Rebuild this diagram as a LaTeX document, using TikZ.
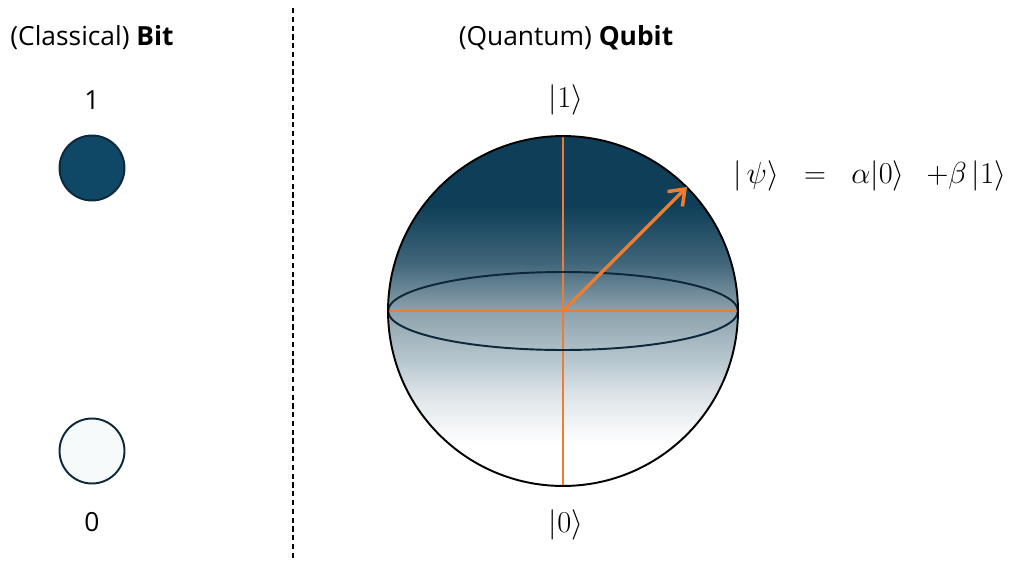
\documentclass[tikz,border=0pt]{standalone}
\usepackage{fontspec}
\setsansfont{Open Sans}
\usetikzlibrary{arrows.meta,positioning}
\definecolor{qdark}{RGB}{15,63,88}
\definecolor{qupper}{RGB}{63,101,121}
\definecolor{qmid}{RGB}{141,162,173}
\definecolor{qlower}{RGB}{182,198,206}
\definecolor{qpale}{RGB}{221,228,232}
\definecolor{bitblue}{RGB}{15,72,103}
\definecolor{bitpale}{RGB}{247,250,251}
\definecolor{qorange}{RGB}{237,125,49}
\definecolor{qline}{RGB}{12,40,58}
\pgfdeclareverticalshading{qsphere}{100bp}{color(0bp)=(white); color(31bp)=(white);
  color(38bp)=(qpale); color(43bp)=(qlower); color(50bp)=(qmid); color(57bp)=(qupper);
  color(65bp)=(qdark); color(100bp)=(qdark)}
\tikzset{
  titletext/.style={font=\sffamily\fontsize{15}{17}\selectfont},
  bitlabel/.style={font=\sffamily\fontsize{15}{17}\selectfont},
  ketlabel/.style={font=\fontsize{18}{20}\selectfont},
  bitcircle/.style={draw=qline, circle, line width=1.1pt, fill=#1,
                    minimum size=1.3cm, inner sep=0pt},
  axisline/.style={draw=qorange, line width=0.6pt},
  statevec/.style={-{Straight Barb[length=8pt,width=12pt]}, qorange, line width=2pt},
}

\begin{document}
\begin{tikzpicture}[x=0.02cm, y=-0.02cm]
\useasboundingbox (0,0) rectangle (1010,561);

% Classical side
\node[titletext] (bittitle) at (92,38) {(Classical) \textbf{Bit}};
\node[bitlabel] (one) at (92,100) {1};
\node[bitcircle=bitblue] (bitone) at (92,168) {};
\node[bitcircle=bitpale] (bitzero) at (92,451) {};
\node[bitlabel] (zero) at (92,522) {0};

% Divider
\coordinate (divtop) at (293,8);
\coordinate (divbot) at (293,561);
\draw[line width=0.8pt, dash pattern=on 3pt off 2pt] (divtop) -- (divbot);

% Quantum side
\node[titletext] (qubittitle) at (566,38) {(Quantum) \textbf{Qubit}};
\node[circle, minimum size=7cm, inner sep=0pt, shading=qsphere] (sphere) at (563,311) {};
\draw[axisline] (sphere.north) -- (sphere.south);
\draw[axisline] (sphere.west) -- (sphere.east);
\draw[qline, line width=1.1pt] (sphere.center) ellipse [x radius=3.5cm, y radius=0.78cm];
\draw[black, line width=1.1pt] (sphere.center) circle [radius=3.5cm];
\draw[statevec] (sphere.center) -- (sphere.45);

% Kets
\node[ketlabel] (ketone) at (566,100) {$|1\rangle$};
\node[ketlabel] (ketzero) at (566,525) {$|0\rangle$};
\node[ketlabel, font=\fontsize{19}{21}\selectfont, anchor=west] (psi) at (727,176)
  {$|\,\psi\rangle\;\;=\;\;\alpha|0\rangle\;\;\,{+}\beta\,|1\rangle$};

\end{tikzpicture}
\end{document}
